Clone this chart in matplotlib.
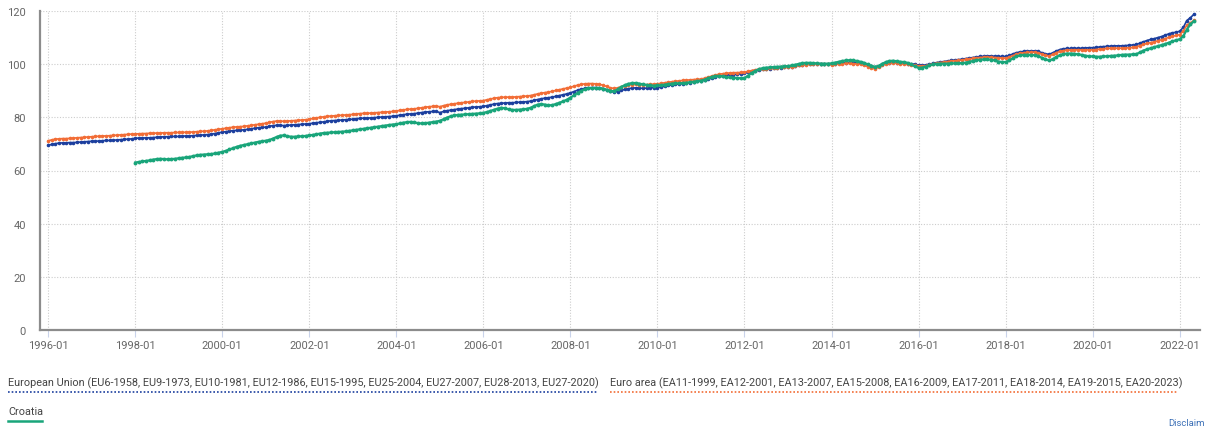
import pandas as pd
import numpy as np
import matplotlib
matplotlib.use('Agg')
import matplotlib.pyplot as plt
import matplotlib.dates as mdates
from matplotlib.lines import Line2D

plt.rcParams['font.family'] = ['Roboto', 'DejaVu Sans']

# monthly index values, one row per year
eu = [
    69.5, 69.8, 70.1, 70.3, 70.4, 70.4, 70.5, 70.5, 70.6, 70.7, 70.8, 70.9,
    71.0, 71.0, 71.1, 71.2, 71.3, 71.3, 71.4, 71.5, 71.6, 71.7, 71.8, 71.9,
    72.1, 72.2, 72.2, 72.3, 72.3, 72.4, 72.5, 72.6, 72.7, 72.7, 72.8, 72.8,
    72.8, 72.9, 73.0, 73.0, 73.1, 73.2, 73.3, 73.4, 73.5, 73.7, 73.9, 74.2,
    74.4, 74.6, 74.8, 75.0, 75.1, 75.2, 75.3, 75.5, 75.7, 75.9, 76.1, 76.2,
    76.3, 76.6, 76.9, 77.0, 77.0, 76.9, 77.0, 77.1, 77.2, 77.3, 77.4, 77.5,
    77.6, 77.8, 78.0, 78.1, 78.3, 78.5, 78.7, 78.8, 78.9, 79.0, 79.1, 79.2,
    79.3, 79.5, 79.6, 79.7, 79.7, 79.8, 79.9, 80.0, 80.1, 80.2, 80.3, 80.4,
    80.6, 80.8, 81.0, 81.2, 81.3, 81.4, 81.6, 81.8, 82.0, 82.1, 82.2, 82.2,
    81.8, 82.2, 82.5, 82.7, 82.9, 83.1, 83.3, 83.4, 83.6, 83.8, 83.9, 84.0,
    84.1, 84.4, 84.7, 85.0, 85.2, 85.3, 85.4, 85.5, 85.5, 85.6, 85.7, 85.8,
    85.9, 86.1, 86.4, 86.7, 87.0, 87.2, 87.4, 87.6, 87.9, 88.2, 88.5, 88.8,
    89.2, 89.7, 90.2, 90.6, 90.9, 91.1, 91.2, 91.2, 91.1, 90.8, 90.3, 89.8,
    89.5, 89.7, 90.1, 90.5, 90.8, 91.0, 91.1, 91.0, 90.9, 91.0, 91.1, 91.2,
    91.2, 91.4, 91.7, 92.0, 92.2, 92.4, 92.5, 92.7, 92.9, 93.1, 93.3, 93.5,
    93.7, 94.0, 94.4, 94.8, 95.2, 95.5, 95.7, 95.9, 96.0, 96.1, 96.2, 96.4,
    96.6, 96.9, 97.3, 97.6, 97.8, 98.0, 98.1, 98.3, 98.5, 98.6, 98.7, 98.8,
    98.9, 99.1, 99.4, 99.6, 99.8, 99.9, 100.0, 100.1, 100.1, 100.2, 100.1, 100.0,
    99.9, 100.1, 100.3, 100.5, 100.6, 100.7, 100.6, 100.5, 100.4, 100.2, 99.8, 99.2,
    98.8, 99.3, 99.9, 100.3, 100.6, 100.7, 100.6, 100.5, 100.3, 100.2, 100.1, 100.0,
    99.6, 99.5, 99.7, 100.0, 100.3, 100.6, 100.8, 101.0, 101.2, 101.4, 101.6, 101.7,
    101.9, 102.1, 102.3, 102.5, 102.7, 102.9, 103.0, 103.1, 103.1, 103.0, 102.9, 102.9,
    102.9, 103.3, 103.8, 104.3, 104.6, 104.8, 104.9, 105.0, 105.0, 104.8, 104.3, 103.9,
    103.7, 104.3, 104.9, 105.5, 105.8, 105.9, 105.9, 106.0, 106.0, 106.0, 106.1, 106.2,
    106.2, 106.3, 106.5, 106.6, 106.7, 106.8, 106.9, 106.9, 106.9, 107.0, 107.1, 107.2,
    107.4, 107.9, 108.4, 108.9, 109.3, 109.6, 110.0, 110.4, 110.9, 111.4, 111.8, 112.0,
    112.4, 113.9, 116.4, 117.5, 118.8,
]

ea = [
    71.2, 71.5, 71.8, 71.9, 72.0, 72.0, 72.1, 72.2, 72.3, 72.4, 72.5, 72.6,
    72.7, 72.8, 72.9, 73.0, 73.0, 73.1, 73.2, 73.3, 73.4, 73.5, 73.6, 73.7,
    73.8, 73.8, 73.9, 73.9, 74.0, 74.0, 74.1, 74.1, 74.2, 74.2, 74.2, 74.3,
    74.3, 74.3, 74.4, 74.4, 74.5, 74.6, 74.7, 74.8, 74.9, 75.1, 75.3, 75.5,
    75.7, 75.9, 76.1, 76.3, 76.4, 76.5, 76.6, 76.8, 77.0, 77.2, 77.4, 77.6,
    77.8, 78.1, 78.4, 78.6, 78.6, 78.5, 78.6, 78.7, 78.8, 78.9, 79.0, 79.1,
    79.3, 79.6, 79.8, 80.0, 80.2, 80.4, 80.5, 80.6, 80.7, 80.8, 80.9, 81.0,
    81.1, 81.3, 81.4, 81.5, 81.5, 81.6, 81.7, 81.8, 81.9, 82.0, 82.1, 82.2,
    82.4, 82.6, 82.8, 83.0, 83.1, 83.2, 83.4, 83.6, 83.8, 84.0, 84.1, 84.2,
    84.0, 84.4, 84.7, 84.9, 85.1, 85.3, 85.5, 85.6, 85.8, 86.0, 86.1, 86.2,
    86.3, 86.6, 86.9, 87.2, 87.4, 87.5, 87.6, 87.6, 87.6, 87.7, 87.8, 87.9,
    88.0, 88.2, 88.5, 88.8, 89.1, 89.3, 89.5, 89.8, 90.1, 90.4, 90.7, 91.0,
    91.3, 91.7, 92.1, 92.4, 92.6, 92.7, 92.7, 92.6, 92.4, 92.1, 91.6, 91.1,
    90.9, 91.1, 91.5, 91.9, 92.2, 92.3, 92.4, 92.3, 92.2, 92.3, 92.4, 92.5,
    92.6, 92.8, 93.0, 93.2, 93.4, 93.6, 93.7, 93.9, 94.0, 94.1, 94.2, 94.3,
    94.4, 94.7, 95.1, 95.5, 95.9, 96.2, 96.4, 96.6, 96.7, 96.8, 96.8, 96.9,
    97.0, 97.3, 97.6, 97.9, 98.1, 98.2, 98.3, 98.5, 98.6, 98.7, 98.8, 98.8,
    98.8, 99.0, 99.3, 99.5, 99.7, 99.8, 99.9, 100.0, 100.0, 100.1, 100.0, 99.9,
    99.8, 99.9, 100.1, 100.2, 100.3, 100.3, 100.2, 100.1, 99.9, 99.6, 99.1, 98.5,
    98.3, 98.9, 99.6, 100.1, 100.4, 100.5, 100.4, 100.2, 100.0, 99.9, 99.8, 99.7,
    99.3, 99.2, 99.4, 99.8, 100.1, 100.4, 100.6, 100.8, 101.0, 101.2, 101.3, 101.4,
    101.6, 101.8, 102.0, 102.2, 102.4, 102.5, 102.6, 102.6, 102.6, 102.5, 102.4, 102.3,
    102.2, 102.7, 103.2, 103.7, 104.1, 104.3, 104.4, 104.5, 104.5, 104.3, 103.8, 103.3,
    103.1, 103.7, 104.3, 104.8, 105.1, 105.3, 105.3, 105.4, 105.4, 105.4, 105.4, 105.4,
    105.4, 105.5, 105.7, 105.8, 105.9, 106.0, 106.0, 106.0, 106.0, 106.1, 106.2, 106.3,
    106.5, 107.0, 107.4, 107.8, 108.1, 108.4, 108.8, 109.2, 109.6, 110.1, 110.5, 110.8,
    111.1, 112.6, 114.6, 115.5, 116.5,
]

# Croatia starts 1998-01
hr = [
    63.0, 63.2, 63.4, 63.6, 63.8, 64.1, 64.3, 64.4, 64.3, 64.2, 64.3, 64.4,
    64.6, 64.8, 64.9, 65.1, 65.4, 65.7, 65.9, 66.0, 66.1, 66.2, 66.4, 66.7,
    67.0, 67.4, 67.9, 68.4, 68.9, 69.3, 69.6, 69.9, 70.2, 70.5, 70.8, 71.0,
    71.2, 71.5, 72.0, 72.6, 73.1, 73.2, 72.9, 72.7, 72.7, 72.8, 72.9, 73.0,
    73.2, 73.4, 73.6, 73.9, 74.1, 74.2, 74.3, 74.4, 74.5, 74.6, 74.7, 74.9,
    75.1, 75.3, 75.5, 75.7, 75.9, 76.1, 76.3, 76.5, 76.7, 76.9, 77.1, 77.3,
    77.4, 77.7, 78.0, 78.2, 78.3, 78.1, 77.8, 77.7, 77.8, 78.0, 78.2, 78.4,
    78.7, 79.3, 79.9, 80.4, 80.7, 80.9, 81.0, 81.1, 81.2, 81.3, 81.4, 81.5,
    81.7, 82.0, 82.4, 82.8, 83.3, 83.6, 83.4, 83.0, 82.8, 82.8, 82.9, 83.0,
    83.2, 83.6, 84.2, 84.8, 85.0, 84.8, 84.5, 84.6, 85.0, 85.5, 86.0, 86.6,
    87.4, 88.3, 89.2, 90.0, 90.6, 90.9, 91.0, 91.0, 90.9, 90.8, 90.4, 90.0,
    89.8, 90.5, 91.4, 92.1, 92.6, 92.9, 92.9, 92.7, 92.4, 92.2, 92.0, 91.9,
    92.0, 92.1, 92.3, 92.5, 92.7, 92.8, 92.8, 92.9, 93.0, 93.2, 93.4, 93.6,
    93.8, 94.2, 94.7, 95.2, 95.5, 95.6, 95.4, 95.1, 95.0, 94.9, 94.8, 94.7,
    94.8, 95.7, 96.7, 97.5, 98.1, 98.5, 98.7, 98.8, 98.9, 99.0, 99.1, 99.2,
    99.3, 99.5, 99.8, 100.1, 100.4, 100.5, 100.5, 100.4, 100.3, 100.2, 100.2, 100.2,
    100.3, 100.6, 100.9, 101.2, 101.4, 101.5, 101.4, 101.2, 100.9, 100.5, 99.9, 99.4,
    99.0, 99.4, 100.1, 100.8, 101.2, 101.3, 101.1, 100.9, 100.8, 100.5, 99.9, 99.2,
    98.6, 98.7, 99.1, 99.6, 99.9, 100.1, 100.2, 100.2, 100.2, 100.3, 100.3, 100.4,
    100.4, 100.6, 100.9, 101.2, 101.5, 101.7, 101.8, 101.8, 101.7, 101.4, 101.0, 100.8,
    100.8, 101.4, 102.2, 102.9, 103.3, 103.5, 103.5, 103.5, 103.4, 103.1, 102.4, 101.8,
    101.4, 101.9, 102.7, 103.4, 103.8, 104.0, 104.0, 103.9, 103.7, 103.5, 103.2, 103.0,
    102.9, 102.8, 102.8, 102.9, 103.0, 103.1, 103.2, 103.3, 103.5, 103.6, 103.6, 103.7,
    103.8, 104.4, 105.1, 105.6, 106.0, 106.4, 106.8, 107.2, 107.6, 108.1, 108.6, 109.0,
    109.4, 110.6, 113.0, 115.0, 116.2,
]

labels = ['European Union (EU6-1958, EU9-1973, EU10-1981, EU12-1986, EU15-1995, '
          'EU25-2004, EU27-2007, EU28-2013, EU27-2020)',
          'Euro area (EA11-1999, EA12-2001, EA13-2007, EA15-2008, EA16-2009, '
          'EA17-2011, EA18-2014, EA19-2015, EA20-2023)',
          'Croatia']
colors = ['#1c3f9e', '#f26d36', '#19a57a']

eu_dates = pd.date_range('1996-01-01', periods=len(eu), freq='MS')
ea_dates = pd.date_range('1996-01-01', periods=len(ea), freq='MS')
hr_dates = pd.date_range('1998-01-01', periods=len(hr), freq='MS')

W, H = 1206, 431
fig = plt.figure(figsize=(W / 100, H / 100), dpi=100)
ax = fig.add_axes([40 / W, 1 - 331 / H, 1160 / W, 319 / H])

ax.plot(eu_dates, eu, color=colors[0], lw=1.2, marker='o', ms=2.6, mew=0)
ax.plot(ea_dates, ea, color=colors[1], lw=1.2, marker='o', ms=2.6, mew=0)
ax.plot(hr_dates, hr, color=colors[2], lw=1.6, marker='o', ms=2.8, mew=0)

ax.set_ylim(0, 120)
ax.set_yticks(np.arange(0, 121, 20))
ax.set_xlim(pd.Timestamp('1995-10-25'), pd.Timestamp('2022-06-20'))
ax.xaxis.set_major_locator(mdates.YearLocator(2, month=1, day=1))
ax.xaxis.set_major_formatter(mdates.DateFormatter('%Y-%m'))

ax.grid(True, color='#cccccc', ls=(0, (1, 1.5)), lw=0.8)
ax.set_axisbelow(True)
for s in ['top', 'right']:
    ax.spines[s].set_visible(False)
for s in ['left', 'bottom']:
    ax.spines[s].set_color('#8c8c8c')
    ax.spines[s].set_linewidth(1.6)
ax.tick_params(axis='y', length=0, pad=10, labelsize=8, labelcolor='#666666')
ax.tick_params(axis='x', length=5, color='#c9d3ea', pad=2, labelsize=8,
               labelcolor='#666666')


def px(x, y):
    return x / W, 1 - y / H


# legend below the plot
fig.text(*px(8, 383), labels[0], fontsize=7.85, color='#444444', va='center')
fig.add_artist(Line2D([8 / W, 597 / W], [1 - 393 / H] * 2, color=colors[0],
                      lw=1.2, ls=(0, (1, 1.2))))
fig.text(*px(610, 383), labels[1], fontsize=7.85, color='#444444', va='center')
fig.add_artist(Line2D([610 / W, 1177 / W], [1 - 393 / H] * 2, color=colors[1],
                      lw=1.2, ls=(0, (1, 1.2))))
fig.text(*px(8, 412), labels[2], fontsize=7.85, color='#444444', va='center')
fig.add_artist(Line2D([8 / W, 42 / W], [1 - 422 / H] * 2, color=colors[2],
                      lw=1.8))
fig.text(*px(1168, 424), 'Disclaim', fontsize=6.8, color='#3b6fb6', va='center')

fig.savefig('out.png', dpi=100)
